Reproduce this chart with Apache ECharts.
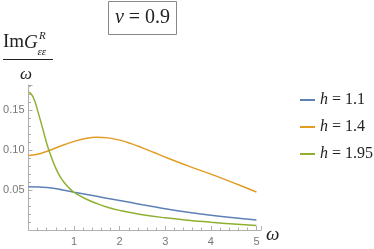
<!DOCTYPE html>
<html><head><meta charset="utf-8">
<script src="https://cdn.jsdelivr.net/npm/echarts@6/dist/echarts.min.js"></script>
<style>html,body{margin:0;padding:0;background:#fff}#c{width:374px;height:249px}</style>
</head><body><div id="c"></div>
<script>
var seriesNames = ['h = 1.1', 'h = 1.4', 'h = 1.95'];
var xBlueOrange = [0, 0.25, 0.5, 0.75, 1, 1.25, 1.5, 1.75, 2, 2.25, 2.5, 2.75, 3, 3.5, 4, 4.5, 5];
var yBlue = [0.054, 0.0536, 0.0525, 0.0500, 0.0472, 0.0445, 0.0420, 0.0393, 0.0368, 0.0342, 0.0315, 0.0290, 0.0265, 0.0222, 0.0185, 0.0153, 0.0125];
var yOrange = [0.093, 0.0952, 0.1002, 0.1058, 0.1106, 0.1143, 0.1158, 0.1150, 0.1122, 0.1078, 0.1025, 0.0968, 0.0910, 0.0800, 0.0697, 0.0588, 0.0475];
var xGreen = [0, 0.05, 0.1, 0.15, 0.2, 0.3, 0.4, 0.5, 0.6, 0.7, 0.8, 0.9, 1, 1.25, 1.5, 1.75, 2, 2.5, 3, 3.5, 4, 4.5, 5];
var yGreen = [0.172, 0.1705, 0.166, 0.159, 0.149, 0.129, 0.108, 0.091, 0.077, 0.066, 0.058, 0.052, 0.047, 0.039, 0.033, 0.028, 0.0245, 0.019, 0.0152, 0.0122, 0.0097, 0.0075, 0.0055];
var xTicks = [1, 2, 3, 4, 5];
var yTicks = [0.05, 0.10, 0.15];

function pairs(xs, ys) { return xs.map(function (x, i) { return [x, ys[i]]; }); }
var colors = ['#5E81B5', '#E19C24', '#8FB032'];
var chart = echarts.init(document.getElementById('c'), null, {renderer: 'canvas'});
var axisCol = '#b0b0b0';
var labelStyle = {color: '#777', fontSize: 11, fontFamily: 'Liberation Sans'};
var serif = 'Liberation Serif';
chart.setOption({
  animation: false,
  color: colors,
  grid: {left: 28.5, right: 113, top: 85, bottom: 19, containLabel: false},
  xAxis: {
    type: 'value', min: 0, max: 5.1, interval: 1,
    axisLine: {show: true, onZero: false, lineStyle: {color: axisCol, width: 1}},
    axisTick: {show: true, inside: true, length: 4, lineStyle: {color: axisCol}},
    minorTick: {show: true, splitNumber: 5, length: 2.5, lineStyle: {color: axisCol}},
    splitLine: {show: false},
    axisLabel: Object.assign({margin: 6, showMinLabel: false, showMaxLabel: false,
      formatter: function (v) { return xTicks.indexOf(v) >= 0 ? String(v) : ''; }}, labelStyle)
  },
  yAxis: {
    type: 'value', min: 0, max: 0.181, interval: 0.05,
    axisLine: {show: true, onZero: false, lineStyle: {color: axisCol, width: 1}},
    axisTick: {show: true, inside: true, length: 4, lineStyle: {color: axisCol}},
    minorTick: {show: true, splitNumber: 5, length: 2.5, lineStyle: {color: axisCol}},
    splitLine: {show: false},
    axisLabel: Object.assign({margin: 4, showMinLabel: false, showMaxLabel: false,
      formatter: function (v) {
        for (var i = 0; i < yTicks.length; i++) if (Math.abs(yTicks[i] - v) < 1e-9) return yTicks[i].toFixed(2);
        return '';
      }}, labelStyle)
  },
  legend: {
    orient: 'vertical', left: 295, top: 87, itemWidth: 15, itemHeight: 2, itemGap: 11,
    icon: 'rect',
    textStyle: {fontFamily: serif, fontSize: 16, color: '#222',
      rich: {i: {fontStyle: 'italic', fontFamily: serif, fontSize: 16, color: '#222'},
             n: {fontFamily: serif, fontSize: 16, color: '#222'}}},
    formatter: function (name) { return '{i|h}{n| = ' + name.split(' = ')[1] + '}'; },
    data: seriesNames
  },
  series: [
    {name: seriesNames[0], type: 'line', data: pairs(xBlueOrange, yBlue), smooth: 0.4, showSymbol: false, lineStyle: {width: 1.5}},
    {name: seriesNames[1], type: 'line', data: pairs(xBlueOrange, yOrange), smooth: 0.4, showSymbol: false, lineStyle: {width: 1.5}},
    {name: seriesNames[2], type: 'line', data: pairs(xGreen, yGreen), smooth: 0.4, showSymbol: false, lineStyle: {width: 1.5}}
  ],
  graphic: [
    {type: 'rect', shape: {x: 108.5, y: 1.5, width: 68, height: 33}, style: {fill: '#fff', stroke: '#888', lineWidth: 1}},
    {type: 'text', x: 142.5, y: 18, style: {text: '{i|v}{n| = 0.9}', align: 'center', verticalAlign: 'middle',
      rich: {i: {fontStyle: 'italic', fontFamily: serif, fontSize: 20, fill: '#222'},
             n: {fontFamily: serif, fontSize: 20, fill: '#222'}}}},
    {type: 'text', x: 3, y: 52, style: {text: '{n|Im}{i|G}', verticalAlign: 'bottom',
      rich: {i: {fontStyle: 'italic', fontFamily: serif, fontSize: 19, fill: '#222'},
             n: {fontFamily: serif, fontSize: 19, fill: '#222'}}}},
    {type: 'text', x: 39, y: 42, style: {text: 'R', fontStyle: 'italic', fontFamily: serif, fontSize: 11, fill: '#222', verticalAlign: 'bottom'}},
    {type: 'text', x: 37.5, y: 58, style: {text: 'εε', fontStyle: 'italic', fontFamily: serif, fontSize: 11, fill: '#222', verticalAlign: 'bottom'}},
    {type: 'line', shape: {x1: 3, y1: 59.5, x2: 53, y2: 59.5}, style: {stroke: '#222', lineWidth: 1}},
    {type: 'text', x: 26, y: 75, style: {text: 'ω', fontStyle: 'italic', fontFamily: serif, fontSize: 17, fill: '#222', align: 'center', verticalAlign: 'middle'}},
    {type: 'text', x: 266, y: 235, style: {text: 'ω', fontStyle: 'italic', fontFamily: serif, fontSize: 19, fill: '#222', align: 'left', verticalAlign: 'middle'}}
  ]
});
</script></body></html>
